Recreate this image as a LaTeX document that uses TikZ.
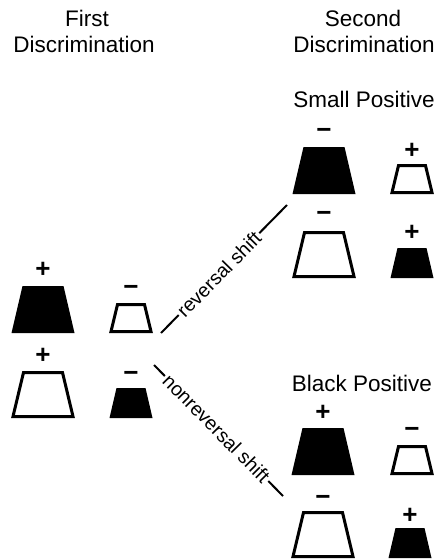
\documentclass[tikz,border=0pt]{standalone}
\usepackage{fontspec}
\setmainfont{Liberation Sans}
\begin{document}
\begin{tikzpicture}[x=1pt,y=-1pt]
\tikzset{
  heading/.style={font=\fontsize{22.5}{27}\selectfont, inner sep=0, anchor=base},
  sign/.style={font=\fontsize{26}{26}\selectfont\bfseries, inner sep=0, anchor=base},
  % trapezoid centred on the pic origin: {bottom width}{top width}{height}
  pics/trapbox/.style n args={3}{code={
    \path[pic actions] (-#1/2,#3/2) -- (#1/2,#3/2) -- (#2/2,-#3/2) -- (-#2/2,-#3/2) -- cycle;
  }},
  solid/.style={fill=black},
  open/.style={draw=black, line width=3, line join=miter},
  shiftline/.style={line width=2},
  shiftlabel/.style={font=\fontsize{19.5}{20}\selectfont, sloped, fill=white, inner sep=2},
}
\useasboundingbox (0,0) rectangle (439,559);

% column headings
\node[heading] (first) at (87,27) {First};
\node[heading] (disc1) at (84,53) {Discrimination};
\node[heading] (second) at (363,27) {Second};
\node[heading] (disc2) at (364,53) {Discrimination};
\node[heading] (smallpos) at (364,108) {Small Positive};
\node[heading] (blackpos) at (362,391) {Black Positive};

% first discrimination, upper pair
\pic[solid] (l1big) at (43,309.5) {trapbox={63}{41}{47}};
\node[sign] (l1bigsign) at (43,277) {+};
\pic[open] (l1small) at (131,318) {trapbox={40}{27}{27}};
\node[sign] (l1smallsign) at (131,295) {−};
% first discrimination, lower pair
\pic[open] (l2big) at (43,394.5) {trapbox={60}{39}{44}};
\node[sign] (l2bigsign) at (43,363) {+};
\pic[solid] (l2small) at (131,403) {trapbox={43}{29}{30}};
\node[sign] (l2smallsign) at (131,381) {−};

% small positive, upper pair
\pic[solid] (s1big) at (324,170.5) {trapbox={63}{41}{47}};
\node[sign] (s1bigsign) at (324,139) {−};
\pic[open] (s1small) at (412,179) {trapbox={40}{27}{27}};
\node[sign] (s1smallsign) at (412,158) {+};
% small positive, lower pair
\pic[open] (s2big) at (324,254.5) {trapbox={60}{39}{44}};
\node[sign] (s2bigsign) at (324,221) {−};
\pic[solid] (s2small) at (412,263) {trapbox={43}{29}{30}};
\node[sign] (s2smallsign) at (412,240) {+};

% black positive, upper pair
\pic[solid] (b1big) at (323,451.5) {trapbox={63}{41}{47}};
\node[sign] (b1bigsign) at (323,420) {+};
\pic[open] (b1small) at (412,460) {trapbox={40}{27}{27}};
\node[sign] (b1smallsign) at (412,437) {−};
% black positive, lower pair
\pic[open] (b2big) at (323,534.5) {trapbox={60}{39}{44}};
\node[sign] (b2bigsign) at (323,505) {−};
\pic[solid] (b2small) at (410,543) {trapbox={43}{29}{30}};
\node[sign] (b2smallsign) at (410,523) {+};

% shift connectors
\coordinate (revstart) at (161,333);
\coordinate (revend) at (287,205);
\draw[shiftline] (revstart) -- node[shiftlabel, pos=0.46] {reversal shift} (revend);
\coordinate (nonstart) at (154,365);
\coordinate (nonend) at (283,496);
\draw[shiftline] (nonstart) -- node[shiftlabel, pos=0.485] {nonreversal shift} (nonend);
\end{tikzpicture}
\end{document}
